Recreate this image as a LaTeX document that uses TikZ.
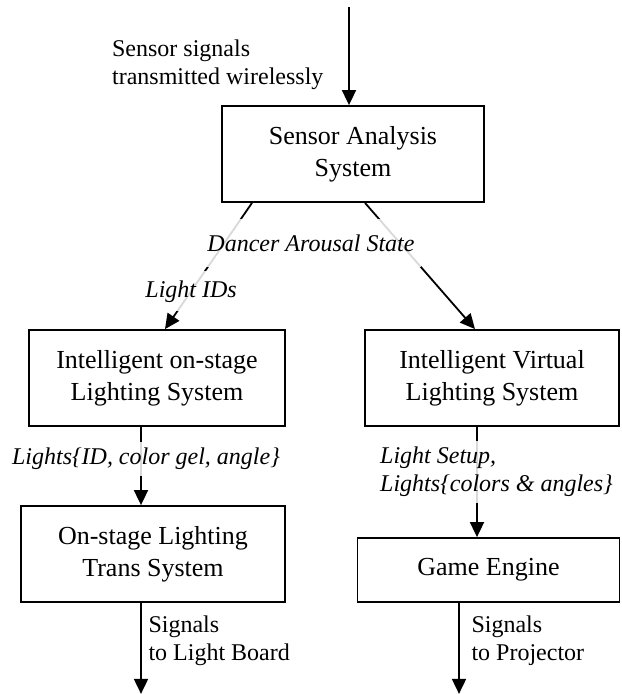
\documentclass[tikz,border=0pt]{standalone}
\usepackage{fontspec}
\setmainfont{Liberation Serif}
\usetikzlibrary{arrows.meta}

\tikzset{
  box/.style={draw, align=center, minimum width=128pt, minimum height=48pt,
    font=\fontsize{13}{16}\selectfont},
  lbl/.style={font=\fontsize{12}{14}\selectfont\itshape, fill=white,
    fill opacity=0.85, text opacity=1, inner sep=3pt},
  note/.style={font=\fontsize{12}{14}\selectfont, align=left}
}

\begin{document}
\begin{tikzpicture}[->, >={Triangle[width=7pt,length=7.5pt]}, line width=0.9pt, node distance=112pt]
        \useasboundingbox (-176.5pt,77pt) rectangle (134pt,-270pt);

        \node[box, minimum width=131pt] (S) {Sensor Analysis\\System};
        \node[box, below of=S, xshift=-98pt] (L) {Intelligent on-stage\\Lighting System};
        \node[box, node distance=167.5pt, right of=L, minimum width=127pt] (V) {Intelligent Virtual\\Lighting System};
        \node[box, node distance=88pt, below of=L, xshift=-2pt, minimum width=132pt] (T) {On-stage Lighting\\Trans System};
        \node[box, node distance=96pt, below of=V, xshift=-1.75pt, minimum width=131pt, minimum height=32pt] (G) {Game Engine};

        \coordinate (in) at ([xshift=-2pt, yshift=49pt]S.north);
        \coordinate (out1) at ([xshift=-6pt, yshift=-45.5pt]T.south);
        \coordinate (out2) at ([xshift=-14.75pt, yshift=-45.5pt]G.south);

        \draw (in) -- (in |- S.north) node[pos=0.59, left=9pt, note] {Sensor signals\\transmitted wirelessly};
        \draw ([xshift=-50.5pt]S.south) -- ([xshift=4pt]L.north) node[pos=0.7, lbl, inner ysep=4.5pt] {Light IDs};
        \draw ([xshift=6pt]S.south) -- ([xshift=-8.5pt]V.north);
        \node[lbl, inner ysep=8pt, node distance=44.5pt, below of=S, xshift=-21pt] (D) {Dancer Arousal State};

        \draw ([xshift=-8pt]L.south) -- ([xshift=-8pt]L.south |- T.north) node[pos=0.41, xshift=2.5pt, lbl] {Lights\{ID, color gel, angle\}};
        \draw ([xshift=-7.5pt]V.south) -- ([xshift=-7.5pt]V.south |- G.north) node[pos=0.41, xshift=9.75pt, lbl, align=left] {Light Setup,\\Lights\{colors \& angles\}};

        \draw ([xshift=-6pt]T.south) -- (out1) node[pos=0.42, right, note] {Signals\\to Light Board};
        \draw ([xshift=-14.75pt]G.south) -- (out2) node[pos=0.42, right=2.5pt, note] {Signals\\to Projector};

        \end{tikzpicture}
\end{document}
